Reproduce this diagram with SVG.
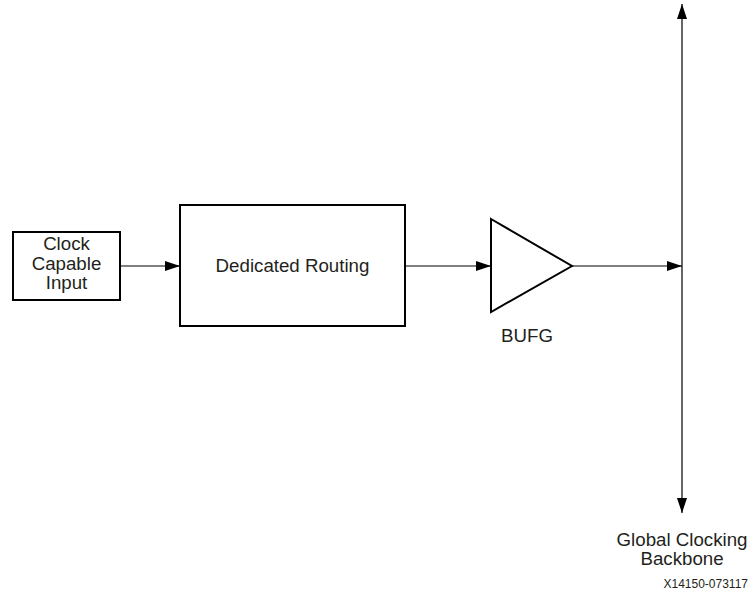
<svg xmlns="http://www.w3.org/2000/svg" width="750" height="594" viewBox="0 0 750 594">
<style>
.box{fill:#fff;stroke:#000;stroke-width:2}
.ln{fill:none;stroke:#000;stroke-width:1.2}
text{font-family:"Liberation Sans",Arial,sans-serif;font-size:18.7px;fill:#231f20;text-anchor:middle}
.sm{font-size:12px}
</style>
<defs>
<marker id="ah" markerWidth="16" markerHeight="10" refX="15" refY="5" orient="auto" markerUnits="userSpaceOnUse">
<path d="M0,0 L15,5 L0,10 Z" fill="#000"/>
</marker>
</defs>
<rect width="750" height="594" fill="#fff"/>
<g id="connectors">
<line class="ln" x1="120" y1="266" x2="180" y2="266" marker-end="url(#ah)"/>
<line class="ln" x1="405" y1="266" x2="491" y2="266" marker-end="url(#ah)"/>
<line class="ln" x1="572" y1="266" x2="682" y2="266" marker-end="url(#ah)"/>
<line class="ln" x1="682" y1="266" x2="682" y2="4" marker-end="url(#ah)"/>
<line class="ln" x1="682" y1="266" x2="682" y2="513" marker-end="url(#ah)"/>
</g>
<g id="clock-input">
<rect class="box" x="13" y="232" width="107" height="68"/>
<text x="66.5" y="250">Clock</text>
<text x="66.5" y="270">Capable</text>
<text x="66.5" y="289">Input</text>
</g>
<g id="dedicated-routing">
<rect class="box" x="180" y="205" width="225" height="121"/>
<text x="292.5" y="272">Dedicated Routing</text>
</g>
<g id="bufg">
<polygon class="box" points="491,219 572,266 491,312"/>
<text x="527" y="342">BUFG</text>
</g>
<g id="backbone">
<text x="682" y="546">Global Clocking</text>
<text x="682" y="565">Backbone</text>
</g>
<text class="sm" x="748" y="588" style="text-anchor:end">X14150-073117</text>
</svg>
